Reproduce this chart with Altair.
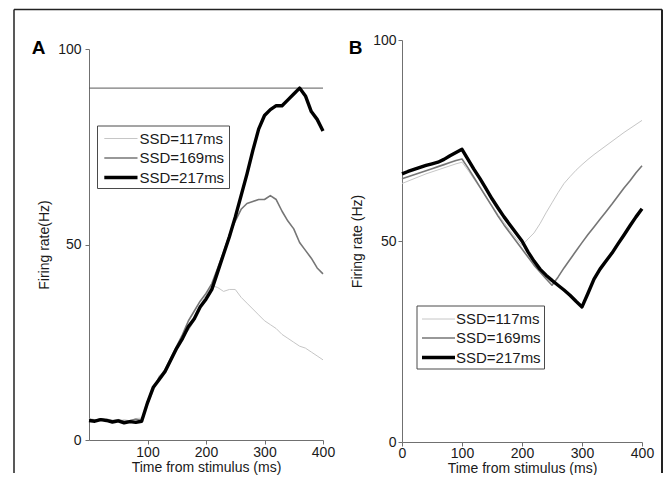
import altair as alt
import pandas as pd

# ---------------- data ----------------
time_ms = [0, 10, 20, 30, 40, 50, 60, 70, 80, 90,
           100, 110, 120, 130, 140, 150, 160, 170, 180, 190,
           200, 210, 220, 230, 240, 250, 260, 270, 280, 290,
           300, 310, 320, 330, 340, 350, 360, 370, 380, 390, 400]

series_names = ["SSD=117ms", "SSD=169ms", "SSD=217ms"]

# Panel A (firing rate, Hz)
a_117 = [5.5, 5.2, 5.0, 5.4, 5.1, 4.8, 5.2, 4.9, 5.5, 5.6,
         9.0, 12.5, 16.5, 17.0, 20.0, 23.0, 26.5, 28.0, 30.5, 34.5,
         37.0, 39.5, 39.0, 38.0, 38.5, 38.5, 36.5, 35.0, 33.5, 32.0,
         30.5, 29.5, 28.5, 27.0, 26.0, 25.0, 24.0, 23.5, 22.5, 21.5, 20.5]
a_169 = [5.3, 5.0, 5.4, 5.1, 4.9, 5.2, 4.8, 5.0, 5.3, 5.0,
         9.8, 13.2, 16.0, 18.0, 21.0, 24.0, 27.0, 30.5, 33.0, 35.5,
         37.5, 40.0, 44.0, 48.0, 52.5, 56.0, 59.0, 60.5, 61.0, 61.5,
         61.5, 62.5, 61.5, 58.5, 56.0, 54.0, 50.5, 48.5, 46.5, 44.0, 42.5]
a_217 = [5.0, 4.8, 5.2, 5.0, 4.6, 4.9, 4.4, 4.7, 4.5, 4.8,
         9.5, 13.5, 15.5, 17.5, 20.5, 23.5, 26.0, 29.0, 31.0, 34.0,
         36.0, 38.5, 43.0, 47.5, 52.0, 57.0, 62.5, 68.0, 74.0, 79.5,
         83.0, 84.5, 85.5, 85.5, 87.0, 88.5, 90.0, 88.0, 84.0, 82.0, 79.0]
threshold_a = 90

# Panel B (firing rate, Hz)
b_117 = [64.3, 64.9, 65.5, 66.1, 66.7, 67.2, 67.7, 68.2, 68.7, 69.2,
         69.6, 67.6, 65.4, 63.2, 61.0, 58.8, 56.6, 54.6, 52.6, 50.7,
         48.9, 50.5, 52.0, 54.3, 57.0, 59.5, 62.0, 64.3, 66.0, 67.6,
         69.0, 70.3, 71.5, 72.6, 73.7, 74.8, 75.9, 77.0, 78.0, 79.0, 80.0]
b_169 = [65.5, 66.0, 66.5, 67.0, 67.5, 68.0, 68.5, 69.0, 69.5, 70.0,
         70.4, 68.2, 65.8, 63.4, 61.0, 58.6, 56.2, 54.0, 52.0, 50.0,
         48.0, 46.0, 44.0, 42.3, 40.6, 39.0, 41.0, 43.3, 45.4, 47.5,
         49.6, 51.6, 53.5, 55.4, 57.3, 59.2, 61.2, 63.2, 65.0, 67.0, 68.7]
b_217 = [66.7, 67.3, 67.8, 68.3, 68.8, 69.2, 69.6, 70.3, 71.2, 72.0,
         72.8, 70.3, 67.8, 65.5, 63.0, 60.5, 58.2, 56.0, 54.0, 52.0,
         50.0, 47.3, 45.0, 43.0, 41.5, 40.2, 39.0, 37.8, 36.5, 35.0,
         33.6, 37.0, 40.5, 43.0, 45.0, 47.0, 49.3, 51.5, 53.8, 56.0, 58.0]

y_ticks = [0, 50, 100]
x_ticks_a = [100, 200, 300, 400]
x_ticks_b = [0, 100, 200, 300, 400]

# ---------------- styles ----------------
series_colors = ["#c6c6c6", "#767676", "#000000"]
series_widths = [1.0, 1.6, 3.4]
FONT = "Liberation Sans"
AXIS_GREY = "#707070"
TEXT_COL = "#1a1a1a"

one = pd.DataFrame({"k": [0]})


def axis_common(**kw):
    base = dict(domainColor=AXIS_GREY, tickColor=AXIS_GREY, tickSize=4, grid=False,
                labelColor=TEXT_COL, titleColor=TEXT_COL, labelFontSize=14,
                titleFontSize=14, titleFontWeight="normal", labelFont=FONT, titleFont=FONT,
                labelFlush=False, domainWidth=1, tickWidth=1)
    base.update(kw)
    return alt.Axis(**base)


def series_layers(values, x_axis, y_scale, y_axis):
    layers = []
    for name, vals, col, w in zip(series_names, values, series_colors, series_widths):
        df = pd.DataFrame({"t": time_ms, "rate": vals, "series": name})
        layers.append(alt.Chart(df).mark_line(color=col, strokeWidth=w, strokeJoin="round").encode(
            x=alt.X("t:Q", scale=alt.Scale(domain=[0, 400], nice=False), axis=x_axis),
            y=alt.Y("rate:Q", scale=y_scale, axis=y_axis),
        ))
    return layers


def legend_layers(box, line_x, text_x, row_y):
    layers = [alt.Chart(one).mark_rect(fill="white", stroke="#4a4a4a", strokeWidth=1).encode(
        x=alt.value(box[0]), x2=alt.value(box[1]), y=alt.value(box[2]), y2=alt.value(box[3]))]
    for i, name in enumerate(series_names):
        layers.append(alt.Chart(one).mark_rule(color=series_colors[i], strokeWidth=series_widths[i]).encode(
            x=alt.value(line_x[0]), x2=alt.value(line_x[1]), y=alt.value(row_y[i])))
        layers.append(alt.Chart(one).mark_text(text=name, align="left", baseline="middle",
                                               fontSize=15, font=FONT, color=TEXT_COL).encode(
            x=alt.value(text_x), y=alt.value(row_y[i])))
    return layers


# ---------------- panel A ----------------
x_axis_a = axis_common(values=x_ticks_a, title="Time from stimulus (ms)", labelPadding=1, titlePadding=1)
y_axis_a = axis_common(values=y_ticks, title="Firing rate(Hz)", labelPadding=4, titlePadding=6)
y_scale_a = alt.Scale(domain=[0, 100], range=[400, 9], nice=False)

thr = alt.Chart(pd.DataFrame({"t": [0], "t2": [400], "rate": [threshold_a]})).mark_rule(
    color="#5a5a5a", strokeWidth=1).encode(
    x=alt.X("t:Q", axis=x_axis_a), x2="t2:Q", y=alt.Y("rate:Q", axis=y_axis_a))

label_a = alt.Chart(one).mark_text(text="A", fontSize=19, fontWeight="bold", font=FONT,
                                   align="center", baseline="alphabetic", color="#000").encode(
    x=alt.value(-50.5), y=alt.value(13.5))

frame_col = "#222222"
frame = [
    alt.Chart(one).mark_rule(color=frame_col, strokeWidth=1.5).encode(
        x=alt.value(-75), y=alt.value(-30.5), y2=alt.value(433)),
    alt.Chart(one).mark_rule(color=frame_col, strokeWidth=1.5).encode(
        x=alt.value(-75), x2=alt.value(573), y=alt.value(-30.5)),
    alt.Chart(one).mark_rule(color=frame_col, strokeWidth=2).encode(
        x=alt.value(573), y=alt.value(-30.5), y2=alt.value(433)),
]

panel_a = alt.layer(
    *frame, thr,
    *series_layers([a_117, a_169, a_217], x_axis_a, y_scale_a, y_axis_a),
    label_a,
    *legend_layers(box=(8.5, 140.5, 86, 148.5), line_x=(15.3, 48.5), text_x=50.5,
                   row_y=[98.5, 118, 137.5]),
).properties(width=234, height=400)

# ---------------- panel B ----------------
x_axis_b = axis_common(values=x_ticks_b, title="Time from stimulus (ms)", labelPadding=0, titlePadding=1)
y_axis_b = axis_common(values=y_ticks, title="Firing rate (Hz)", labelPadding=2, titlePadding=8)
y_scale_b = alt.Scale(domain=[0, 100], range=[402, 0], nice=False)

label_b = alt.Chart(one).mark_text(text="B", fontSize=19, fontWeight="bold", font=FONT,
                                   align="center", baseline="alphabetic", color="#000").encode(
    x=alt.value(-46.5), y=alt.value(13.5))

panel_b = alt.layer(
    *series_layers([b_117, b_169, b_217], x_axis_b, y_scale_b, y_axis_b),
    label_b,
    *legend_layers(box=(15, 142.5, 266, 329), line_x=(20, 53), text_x=54,
                   row_y=[279, 298, 317.5]),
).properties(width=240, height=402)

chart = alt.hconcat(panel_a, panel_b, spacing=79, bounds="flush").properties(
    padding={"left": 5, "top": 0, "right": 0, "bottom": 0}
).configure(font=FONT).configure_view(stroke=None)

chart.save("out.html", embed_options={"renderer": "svg", "actions": False})
